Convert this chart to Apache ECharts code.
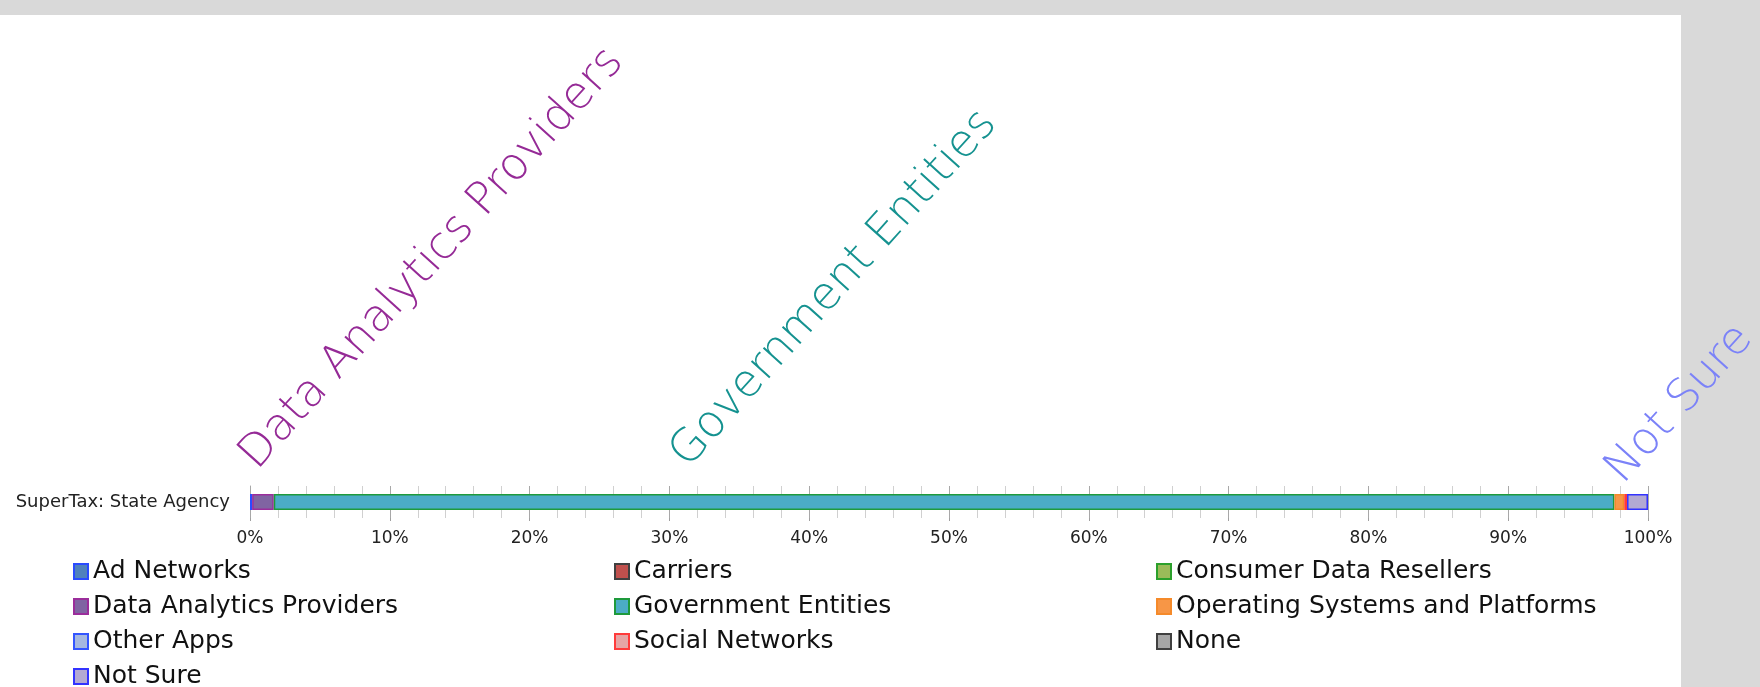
<!DOCTYPE html>
<html>
<head>
<meta charset="utf-8">
<script src="https://cdn.jsdelivr.net/npm/echarts@6/dist/echarts.min.js"></script>
<style>
  html, body { margin: 0; padding: 0; width: 1760px; height: 687px; background: #d9d9d9; overflow: hidden; }
  #paper { position: absolute; left: 0; top: 15px; width: 1681px; height: 672px; background: #ffffff; }
  #chart { position: absolute; left: 0; top: 0; width: 1760px; height: 687px; }
</style>
</head>
<body>
<div id="paper"></div>
<div id="chart"></div>
<script>
const categories = ['SuperTax: State Agency'];
const seriesNames = [
  'Ad Networks', 'Carriers', 'Consumer Data Resellers',
  'Data Analytics Providers', 'Government Entities', 'Operating Systems and Platforms',
  'Other Apps', 'Social Networks', 'None', 'Not Sure'
];
// percent of responses for the single category
const seriesValues = [0.15, 0, 0, 1.55, 95.9, 0.7, 0, 0.2, 0, 1.5];
const fillColors = ['#4f81bd', '#c0504d', '#9bbb59', '#8064a2', '#4bacc6', '#f79646', '#a5b8e0', '#e6a5a5', '#a6a6a6', '#b3a9d3'];
const borderColors = ['#2a4bff', '#404040', '#2ca02c', '#9b2d9b', '#1e9a3c', '#f58a2a', '#3355ff', '#ff3b3b', '#404040', '#3333ff'];
const xTicks = [0, 10, 20, 30, 40, 50, 60, 70, 80, 90, 100];

// rotated callout labels (name -> style)
const callouts = {
  'Data Analytics Providers': { color: '#952a96', position: [13, -16] },
  'Government Entities': { color: '#159290', position: [422, -18] },
  'Not Sure': { color: '#7b82f8', position: [4, -2] }
};

const chart = echarts.init(document.getElementById('chart'), null, { renderer: 'canvas' });

const series = seriesNames.map((name, i) => {
  const s = {
    name: name,
    type: 'bar',
    stack: 'total',
    barWidth: 16,
    data: [seriesValues[i] === 0 ? null : seriesValues[i]],
    itemStyle: { color: fillColors[i], borderColor: borderColors[i], borderWidth: 1.5 },
    emphasis: { disabled: true },
    animation: false
  };
  if (callouts[name]) {
    s.label = {
      show: true,
      formatter: '{a}',
      position: callouts[name].position,
      rotate: 48,
      align: 'left',
      verticalAlign: 'bottom',
      color: callouts[name].color,
      fontFamily: 'DejaVu Sans',
      fontWeight: 200,
      fontSize: 45,
      lineHeight: 45
    };
  }
  return s;
});

const legendBase = {
  orient: 'vertical',
  top: 554,
  height: 140,
  itemWidth: 14,
  itemHeight: 15,
  itemGap: 10,
  icon: 'rect',
  itemStyle: { borderWidth: 2 },
  textStyle: { fontFamily: 'DejaVu Sans', fontSize: 25, lineHeight: 25, color: '#111' },
  selectedMode: false
};

const option = {
  animation: false,
  backgroundColor: 'transparent',
  grid: { left: 250, right: 112, top: 486, height: 32, containLabel: false },
  xAxis: {
    type: 'value',
    min: 0,
    max: 100,
    interval: 10,
    axisLine: { show: false },
    axisTick: { show: true, length: 3, lineStyle: { color: '#a0a0a0' } },
    axisLabel: {
      formatter: v => (xTicks.indexOf(v) >= 0 ? v + '%' : ''),
      fontFamily: 'DejaVu Sans', fontSize: 17, color: '#222', margin: 12
    },
    splitLine: { show: true, lineStyle: { color: '#a8a8a8', width: 1 } },
    minorTick: { show: false, splitNumber: 5 },
    minorSplitLine: { show: true, lineStyle: { color: '#d0d0d0', width: 1 } }
  },
  yAxis: {
    type: 'category',
    data: categories,
    axisLine: { show: true, lineStyle: { color: '#a8a8a8' } },
    axisTick: { show: false },
    axisLabel: { fontFamily: 'DejaVu Sans', fontSize: 18, color: '#222', margin: 20 }
  },
  legend: [
    Object.assign({}, legendBase, { left: 68, data: [seriesNames[0], seriesNames[3], seriesNames[6], seriesNames[9]] }),
    Object.assign({}, legendBase, { left: 609, data: [seriesNames[1], seriesNames[4], seriesNames[7]] }),
    Object.assign({}, legendBase, { left: 1151, data: [seriesNames[2], seriesNames[5], seriesNames[8]] })
  ],
  series: series
};

chart.setOption(option);
</script>
</body>
</html>
